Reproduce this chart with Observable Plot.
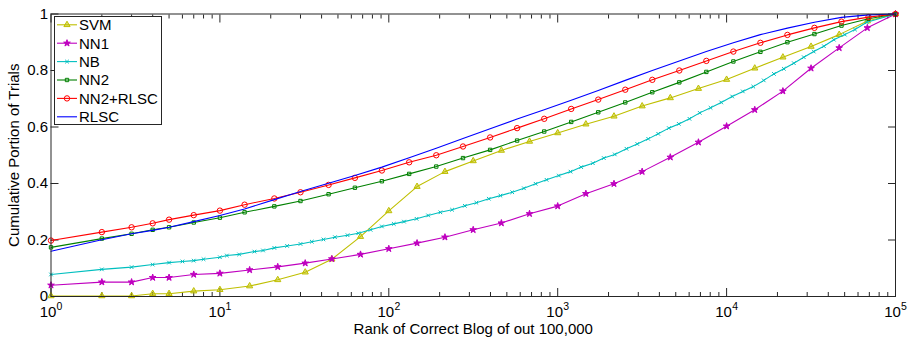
<!DOCTYPE html>
<html><head><meta charset="utf-8">
<script src="https://cdn.jsdelivr.net/npm/d3@7"></script>
<script src="https://cdn.jsdelivr.net/npm/@observablehq/plot@0.6"></script>
<style>
html,body{margin:0;padding:0;background:#fff;}
#chart{position:relative;width:909px;height:337px;}
</style></head><body><div id="chart"></div>
<script>
// Ranks (x values)
const ranksA = [1,2,3,4,5,7,10,14,21,30,44,63,91,132,191,275,398,575,832,1202,1738,2512,3631,5248,7586,10965,15849,22909,33113,47863,69183,100000];
const ranksB = [1,2,3,4,5,7,10,15,22,32,46,68,100,147,215,316,464,681,1000,1468,2154,3162,4642,6813,10000,14678,21544,31623,46416,68129,100000];
const ranksNB = [1,2,3,4,5,6,7,8,10,11,13,16,18,21,25,30,35,41,48,57,66,78,91,107,123,146,171,202,237,282,330,391,458,538,631,740,859,1016,1191,1377,1614,1875,2178,2553,2958,3436,3936,4550,5212,6026,6934,8035,9290,10789,12474,14388,16596,19055,21827,25003,28641,32810,37670,43152,50119,57544,67608,100000];

// Series values (cumulative portion of trials)
const svm = [0.002,0.002,0.002,0.010,0.010,0.019,0.024,0.037,0.059,0.086,0.132,0.212,0.303,0.389,0.442,0.480,0.517,0.549,0.579,0.610,0.638,0.674,0.703,0.736,0.768,0.808,0.847,0.885,0.927,0.975,1.0];
const nn1 = [0.040,0.051,0.051,0.067,0.067,0.078,0.082,0.094,0.105,0.118,0.133,0.149,0.169,0.189,0.210,0.236,0.260,0.293,0.320,0.364,0.399,0.442,0.493,0.546,0.603,0.661,0.727,0.808,0.880,0.951,1.0];
const nb = [0.078,0.096,0.104,0.113,0.120,0.124,0.127,0.132,0.139,0.145,0.149,0.159,0.163,0.172,0.179,0.186,0.194,0.202,0.210,0.217,0.224,0.236,0.248,0.257,0.265,0.275,0.287,0.298,0.307,0.321,0.332,0.346,0.357,0.369,0.383,0.399,0.413,0.428,0.442,0.458,0.472,0.490,0.503,0.523,0.540,0.558,0.576,0.596,0.611,0.629,0.650,0.668,0.687,0.708,0.726,0.743,0.765,0.788,0.806,0.826,0.847,0.867,0.886,0.909,0.927,0.945,0.971,1.0];
const nn2 = [0.174,0.205,0.222,0.236,0.245,0.262,0.279,0.298,0.319,0.338,0.362,0.385,0.408,0.434,0.460,0.490,0.519,0.552,0.584,0.618,0.652,0.687,0.723,0.758,0.795,0.832,0.866,0.900,0.929,0.959,0.983,1.0];
const nn2rlsc = [0.198,0.228,0.245,0.259,0.272,0.288,0.304,0.325,0.347,0.369,0.395,0.420,0.446,0.475,0.500,0.531,0.563,0.596,0.629,0.664,0.697,0.732,0.767,0.800,0.834,0.867,0.898,0.926,0.951,0.973,0.989,1.0];
const rlsc = [0.160,0.201,0.222,0.234,0.245,0.265,0.287,0.310,0.343,0.372,0.401,0.428,0.458,0.491,0.525,0.559,0.594,0.628,0.661,0.695,0.729,0.765,0.800,0.834,0.867,0.898,0.927,0.950,0.971,0.988,0.997,1.0];

// Tick labels
const xMajor = [1,10,100,1000,10000,100000];
const xMajorBase = ["10","10","10","10","10","10"];
const xMajorExp = ["0","1","2","3","4","5"];
const yTicks = [0,0.2,0.4,0.6,0.8,1];
const yTickLabels = ["0","0.2","0.4","0.6","0.8","1"];
const xMinor = d3.range(0,5).flatMap(e => d3.range(2,10).map(m => m * 10 ** e));

const series = [
  {name:"SVM", ranks:ranksB, values:svm, color:"#bfbf00", symbol:"triangle", r:2.3, fill:"#bfbf00", fillOpacity:0.5},
  {name:"NN1", ranks:ranksB, values:nn1, color:"#bf00bf", symbol:"star", r:2.1, fill:"#bf00bf", fillOpacity:1},
  {name:"NB", ranks:ranksNB, values:nb, color:"#00bfbf", symbol:"times", r:1.8, fill:"none", fillOpacity:1},
  {name:"NN2", ranks:ranksA, values:nn2, color:"#008000", symbol:"square", r:1.9, fill:"none", fillOpacity:1},
  {name:"NN2+RLSC", ranks:ranksA, values:nn2rlsc, color:"#ff0000", symbol:"circle", r:2.7, fill:"none", fillOpacity:1},
  {name:"RLSC", ranks:ranksA, values:rlsc, color:"#0000ff", symbol:null}
];

const rowsOf = s => s.ranks.map((x, i) => ({x, y: s.values[i]}));
const FONT = "'Liberation Sans', Arial, Helvetica, sans-serif";
const AX = "#262626";

const W = 909, H = 337, ML = 50.5, MR = 14, MT = 13.5, MB = 41;

const marks = [];
for (const s of series) {
  const rows = rowsOf(s);
  marks.push(Plot.line(rows, {x:"x", y:"y", stroke:s.color, strokeWidth:1.1}));
  if (s.symbol) marks.push(Plot.dot(rows, {x:"x", y:"y", symbol:s.symbol, r:s.r, stroke:s.color, strokeWidth:1, fill:s.fill, fillOpacity:s.fillOpacity}));
}

const noText = () => "";
const tickAxis = (fn, ticks, anchor, size, shift) =>
  fn(ticks, {anchor, tickSize: size, tickFormat: noText, label: null, stroke: AX, strokeOpacity: 1, ...shift});

const plot = Plot.plot({
  width: W, height: H,
  marginLeft: ML, marginRight: MR, marginTop: MT, marginBottom: MB,
  style: {fontFamily: FONT, background: "#fff", color: "#000"},
  x: {type: "log", domain: [1, 100000], axis: null},
  y: {domain: [0, 1], axis: null},
  marks: [
    // inward ticks on all four sides (outward axis ticks shifted inside by their length)
    tickAxis(Plot.axisX, xMajor, "bottom", 8, {dy: -8}),
    tickAxis(Plot.axisX, xMajor, "top", 8, {dy: 8}),
    tickAxis(Plot.axisX, xMinor, "bottom", 4, {dy: -4}),
    tickAxis(Plot.axisX, xMinor, "top", 4, {dy: 4}),
    tickAxis(Plot.axisY, yTicks, "left", 8, {dx: 8}),
    tickAxis(Plot.axisY, yTicks, "right", 8, {dx: -8}),
    // tick labels: base "10" and superscript exponent
    Plot.axisX(xMajor, {anchor:"bottom", tickSize:0, tickPadding:10, fontSize:15, dx:-3,
      tickFormat: d => xMajorBase[xMajor.indexOf(d)],
      label:"Rank of Correct Blog of out 100,000", labelAnchor:"center", labelOffset:37, labelArrow:"none"}),
    Plot.axisX(xMajor, {anchor:"bottom", tickSize:0, tickPadding:6, fontSize:10.5, dx:8.5,
      tickFormat: d => xMajorExp[xMajor.indexOf(d)], label:null}),
    Plot.axisY(yTicks, {anchor:"left", tickSize:0, tickPadding:3, fontSize:15,
      tickFormat: d => yTickLabels[yTicks.indexOf(d)],
      label:"Cumulative Portion of Trials", labelAnchor:"center", labelOffset:43, labelArrow:"none"}),
    ...marks,
    Plot.frame({stroke: AX, strokeWidth: 1})
  ]
});
document.getElementById("chart").appendChild(plot);

// Legend (inside the plot, upper-left)
const svg = d3.select(plot);
const lg = svg.append("g").attr("font-family", FONT).attr("font-size", 15).attr("text-anchor", "start");
lg.append("rect").attr("x", 54.5).attr("y", 16.5).attr("width", 107).attr("height", 108)
  .attr("fill", "#fff").attr("stroke", AX).attr("stroke-width", 1);
const symMap = {triangle: d3.symbolTriangle, star: d3.symbolStar, times: d3.symbolTimes, square: d3.symbolSquare, circle: d3.symbolCircle};
series.forEach((s, i) => {
  const cy = 24.8 + i * 18.4;
  const g = lg.append("g");
  g.append("line").attr("x1", 57).attr("x2", 77).attr("y1", cy).attr("y2", cy)
    .attr("stroke", s.color).attr("stroke-width", 1.1);
  if (s.symbol) {
    g.append("path").attr("d", d3.symbol(symMap[s.symbol], s.r * s.r * Math.PI)())
      .attr("transform", `translate(67,${cy})`)
      .attr("stroke", s.color).attr("fill", s.fill).attr("fill-opacity", s.fillOpacity);
  }
  g.append("text").attr("x", 79).attr("y", cy).attr("dy", "0.36em").attr("fill", "#000").text(s.name);
});
</script>
</body></html>
